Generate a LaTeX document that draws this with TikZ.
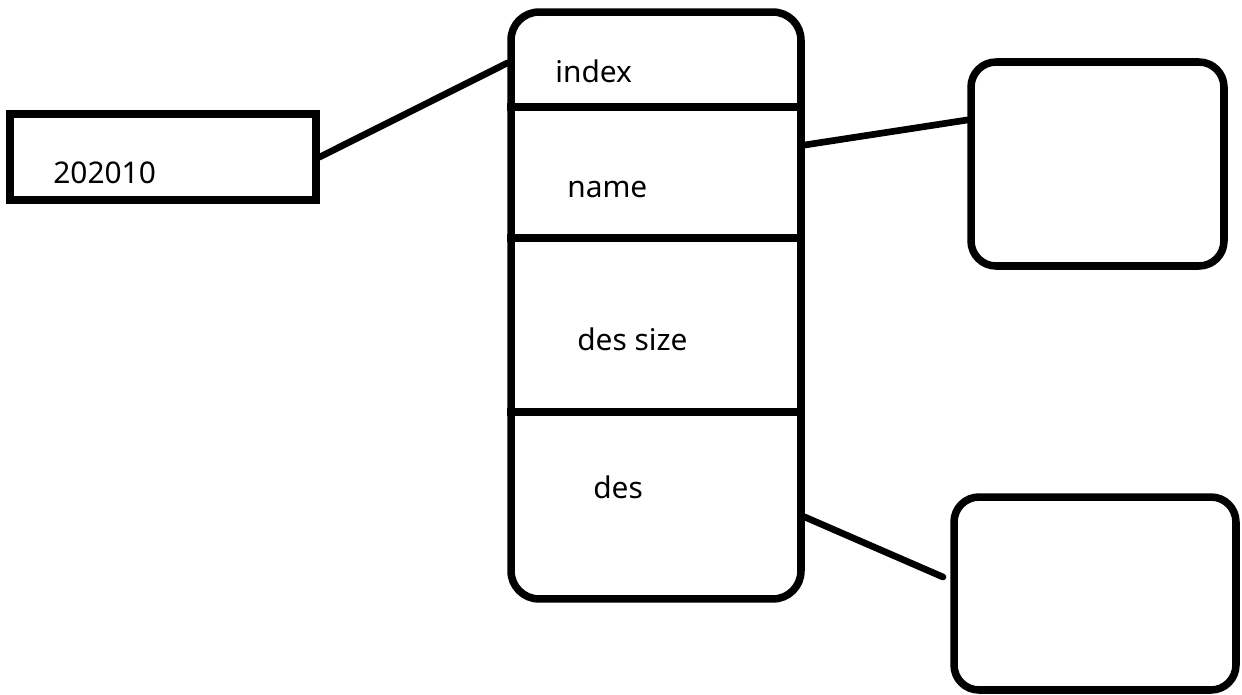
\documentclass[tikz,border=0pt]{standalone}
\usepackage{fontspec}
\setmainfont{Noto Sans}
\usepackage{tikz}

\begin{document}
\begin{tikzpicture}[x=0.02cm, y=-0.02cm,
        box/.style={draw, line width=4.3pt, inner sep=0},
        link/.style={line width=3.8pt, line cap=round},
        field/.style={anchor=base west, inner sep=0, font=\fontsize{17pt}{20pt}\selectfont}]
    \useasboundingbox (0, 0) rectangle (1242, 694);

    \node[box, minimum width=6.12cm, minimum height=1.72cm] (key) at (163, 157) {};
    \node[box, rounded corners=0.56cm, minimum width=5.8cm, minimum height=11.74cm] (record) at (656, 305.5) {};
    \node[box, rounded corners=0.5cm, minimum width=5.06cm, minimum height=4.08cm] (namebox) at (1097.5, 164) {};
    \node[box, rounded corners=0.5cm, minimum width=5.64cm, minimum height=3.86cm] (desbox) at (1095, 593.5) {};

    \draw[line width=4.3pt]
    (record.west |- 0,107) -- (record.east |- 0,107)
    (record.west |- 0,238) -- (record.east |- 0,238)
    (record.west |- 0,412) -- (record.east |- 0,412);

    \node[field] (keytext) at (53, 183) {202010};
    \node[field] (index) at (555, 82) {index};
    \node[field] (name) at (567, 197) {name};
    \node[field] (dessize) at (577, 350) {des size};
    \node[field] (des) at (593, 498) {des};

    \coordinate (indexpin) at (record.west |- 0,63);
    \coordinate (namepin) at (record.east |- 0,145);
    \coordinate (despin) at (record.east |- 0,517);
    \coordinate (nameboxpin) at (namebox.west |- 0,120);
    \coordinate (desend) at (943, 577);

    \draw[link]
    (key.east) -- (indexpin)
    (namepin) -- (nameboxpin)
    (despin) -- (desend);
\end{tikzpicture}
\end{document}
